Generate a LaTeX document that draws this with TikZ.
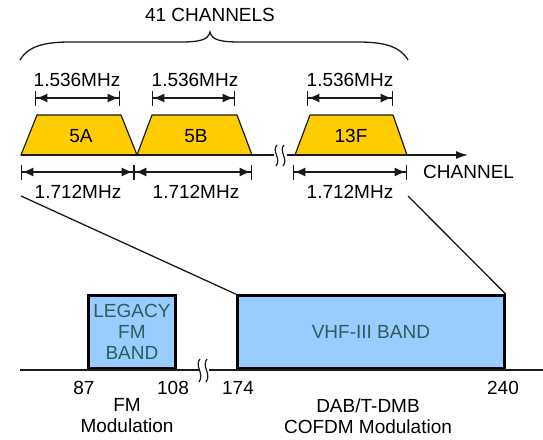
\documentclass[tikz,border=0pt]{standalone}
\usepackage{fontspec}
\setmainfont{Liberation Sans}
\usetikzlibrary{arrows.meta,positioning}
\definecolor{ChanGold}{HTML}{FFCC00}
\definecolor{BandBlue}{HTML}{99CCFF}
\definecolor{BandText}{HTML}{2E5C5C}
\definecolor{LineDark}{HTML}{1A1A1A}
\tikzset{
  lbl/.style={font=\fontsize{19}{21}\selectfont,inner sep=0pt},
  chan/.style={fill=ChanGold,draw=LineDark,line width=1.2pt,line join=round},
  band/.style={fill=BandBlue,draw=black,line width=2.8pt,align=center,inner sep=0pt,
    font=\fontsize{19}{22}\selectfont,text=BandText,anchor=south west},
  axis/.style={draw=LineDark,line width=1.4pt},
  dimarrow/.style={{Bar[width=15pt]Latex[length=11pt,width=9pt]}-{Latex[length=11pt,width=9pt]Bar[width=15pt]},
    line width=1.4pt,draw=LineDark},
  zoomline/.style={draw=LineDark,line width=1.3pt},
  breakmark/.style={draw=LineDark,line width=1.2pt}
}
\begin{document}
\begin{tikzpicture}[x=1pt,y=-1pt]
  \useasboundingbox (0,0) rectangle (543,439);

  % channel brace
  \node[lbl] (title) at (210,15) {41 CHANNELS};
  \draw[line width=1.3pt,draw=LineDark] (20,60) .. controls (28,46) and (45,42) .. (70,42) -- (180,42)
    .. controls (200,42) and (208,40) .. (210,32) .. controls (212,40) and (220,42) .. (240,42)
    -- (358,42) .. controls (383,42) and (400,46) .. (408,60);

  % channel blocks
  \draw[chan] (21,155) -- (37,115) -- (121,115) -- (137,155) -- cycle;
  \draw[chan] (137,155) -- (152,115) -- (237,115) -- (252,155) -- cycle;
  \draw[chan] (295,155) -- (310,115) -- (393,115) -- (407,155) -- cycle;
  \node[lbl] (c5a) at (81,136) {5A};
  \node[lbl] (c5b) at (196,136) {5B};
  \node[lbl] (c13f) at (351,136) {13F};

  % channel axis
  \coordinate (ax0) at (21,155);
  \coordinate (axbrk1) at (274,155);
  \coordinate (axbrk2) at (287,155);
  \coordinate (axend) at (468,155);
  \draw[axis] (ax0) -- (axbrk1);
  \draw[axis,-{Latex[length=12pt,width=8pt]}] (axbrk2) -- (axend);
  \draw[breakmark] (277,145) .. controls (271,151) and (282,159) .. (276,166);
  \draw[breakmark] (284,145) .. controls (278,151) and (289,159) .. (283,166);
  \node[lbl,anchor=west] (chlabel) at (423,172) {CHANNEL};

  % 1.536MHz widths
  \foreach \a/\b/\m/\n in {35/120/77/u1,152/235/195/u2,307/393/350/u3}{
    \coordinate (\n l) at (\a,98);
    \coordinate (\n r) at (\b,98);
    \draw[dimarrow] (\n l) -- (\n r);
    \node[lbl] (\n t) at (\m,80) {1.536MHz};
  }

  % 1.712MHz spacing
  \foreach \a/\b/\m/\n in {21/134/78/d1,134/252/196/d2,293/407/350/d3}{
    \coordinate (\n l) at (\a,172);
    \coordinate (\n r) at (\b,172);
    \draw[dimarrow] (\n l) -- (\n r);
    \node[lbl] (\n t) at (\m,192) {1.712MHz};
  }

  % frequency bands
  \node[band,minimum width=87pt,minimum height=73pt] (fm) at (87,370)
    {LEGACY\\[-1pt]FM\\[-1pt]BAND};
  \node[band,minimum width=267pt,minimum height=73pt] (vhf) at (236,370) {VHF-III BAND};

  \coordinate (fq0) at (20,370);
  \coordinate (fqbrk1) at (199,370);
  \coordinate (fqbrk2) at (209,370);
  \coordinate (fqend) at (543,370);
  \draw[axis] (fq0) -- (fqbrk1);
  \draw[axis] (fqbrk2) -- (fqend);
  \draw[breakmark] (200,359) .. controls (194,366) and (205,374) .. (199,382);
  \draw[breakmark] (207,359) .. controls (201,366) and (212,374) .. (206,382);

  \node[lbl] (f87) at (84,388) {87};
  \node[lbl] (f108) at (173,388) {108};
  \node[lbl] (f174) at (238,388) {174};
  \node[lbl] (f240) at (503,388) {240};
  \node[lbl,align=center] (fmmod) at (127,416) {FM\\[0pt]Modulation};
  \node[lbl,align=center] (dabmod) at (368,416) {DAB/T-DMB\\[0pt]COFDM Modulation};

  % zoom lines
  \coordinate (zl) at (21,196);
  \coordinate (zr) at (408,196);
  \draw[zoomline] (zl) -- (vhf.north west);
  \draw[zoomline] (zr) -- (vhf.north east);
\end{tikzpicture}
\end{document}
